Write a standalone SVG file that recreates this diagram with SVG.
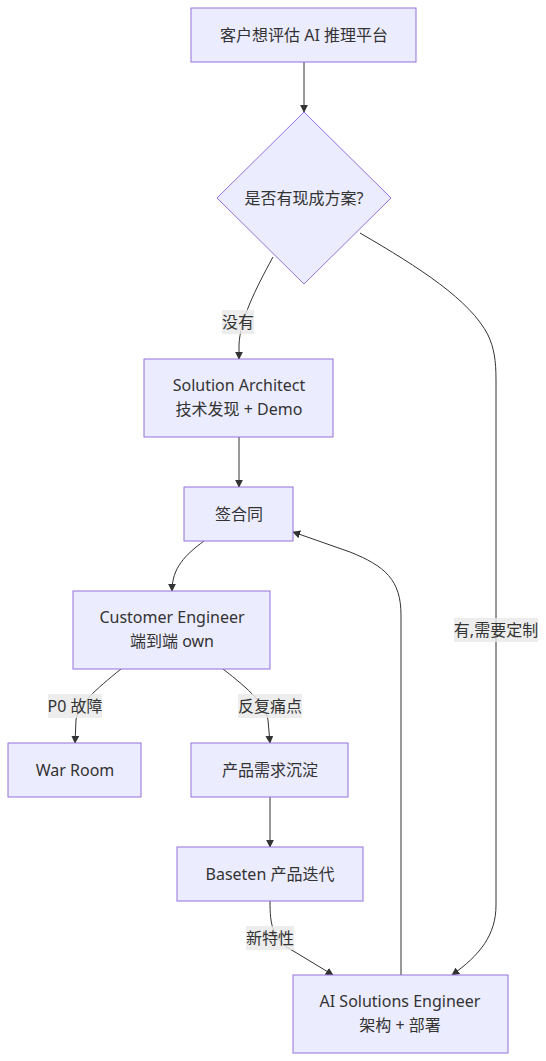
<svg xmlns="http://www.w3.org/2000/svg" width="546" height="1061" viewBox="0 0 546 1061">
<style>
.node rect,.node polygon{fill:#ECECFF;stroke:#9370DB;stroke-width:1px}
text{font-family:"Noto Sans","Noto Sans CJK SC",sans-serif;font-size:16px;fill:#333;text-anchor:middle;dominant-baseline:central}
.edge{fill:none;stroke:#333;stroke-width:1px}
.lbl{fill:rgba(232,232,232,0.8)}
</style>
<defs>
<marker id="arr" viewBox="0 0 10 10" refX="9" refY="5" markerWidth="8" markerHeight="8" markerUnits="userSpaceOnUse" orient="auto">
<path d="M0,0 L10,5 L0,10 z" fill="#333"/>
</marker>
</defs>
<rect width="546" height="1061" fill="#fff"/>
<g id="edges">
<path class="edge" marker-end="url(#arr)" d="M304,62 L304,112"/>
<path class="edge" marker-end="url(#arr)" d="M273,257 C255,290 240,320 239,345 L239,359"/>
<path class="edge" marker-end="url(#arr)" d="M360,233 C420,268 470,300 488,335 C494,348 496,360 496,380 L496,905 C496,935 480,955 452,975"/>
<path class="edge" marker-end="url(#arr)" d="M239,437 L239,487"/>
<path class="edge" marker-end="url(#arr)" d="M204,541 C185,555 172,568 172,591"/>
<path class="edge" marker-end="url(#arr)" d="M121,669 C95,690 78,705 76,720 L75,743"/>
<path class="edge" marker-end="url(#arr)" d="M223,669 C250,690 266,705 268,720 L270,743"/>
<path class="edge" marker-end="url(#arr)" d="M270,797 L270,847"/>
<path class="edge" marker-end="url(#arr)" d="M270,901 C270,925 272,940 295,952 L333,975"/>
<path class="edge" marker-end="url(#arr)" d="M401,975 L401,615 C401,580 385,566 350,552 L293,532"/>
</g>
<g id="edge-labels">
<rect class="lbl" x="222" y="310" width="32" height="24"/><text x="238" y="322">没有</text>
<rect class="lbl" x="454" y="618" width="84" height="24"/><text x="496" y="630">有,需要定制</text>
<rect class="lbl" x="48" y="694" width="54" height="24"/><text x="75" y="706">P0 故障</text>
<rect class="lbl" x="238" y="694" width="64" height="24"/><text x="270" y="706">反复痛点</text>
<rect class="lbl" x="246" y="926" width="48" height="24"/><text x="270" y="938">新特性</text>
</g>
<g id="A" class="node"><rect x="191" y="8" width="225" height="54"/><text x="304" y="35">客户想评估 AI 推理平台</text></g>
<g id="B" class="node"><polygon points="304,112 391,198 304,284 217,198"/><text x="304" y="198">是否有现成方案?</text></g>
<g id="C" class="node"><rect x="144" y="359" width="189" height="78"/><text x="239" y="385">Solution Architect</text><text x="239" y="409">技术发现 + Demo</text></g>
<g id="D" class="node"><rect x="184" y="487" width="109" height="54"/><text x="239" y="514">签合同</text></g>
<g id="E" class="node"><rect x="73" y="591" width="197" height="78"/><text x="172" y="617">Customer Engineer</text><text x="172" y="641">端到端 own</text></g>
<g id="F" class="node"><rect x="8" y="743" width="133" height="54"/><text x="75" y="770">War Room</text></g>
<g id="G" class="node"><rect x="191" y="743" width="157" height="54"/><text x="270" y="770">产品需求沉淀</text></g>
<g id="H" class="node"><rect x="177" y="847" width="186" height="54"/><text x="270" y="874">Baseten 产品迭代</text></g>
<g id="I" class="node"><rect x="293" y="975" width="215" height="78"/><text x="400" y="1001">AI Solutions Engineer</text><text x="400" y="1025">架构 + 部署</text></g>
</svg>
